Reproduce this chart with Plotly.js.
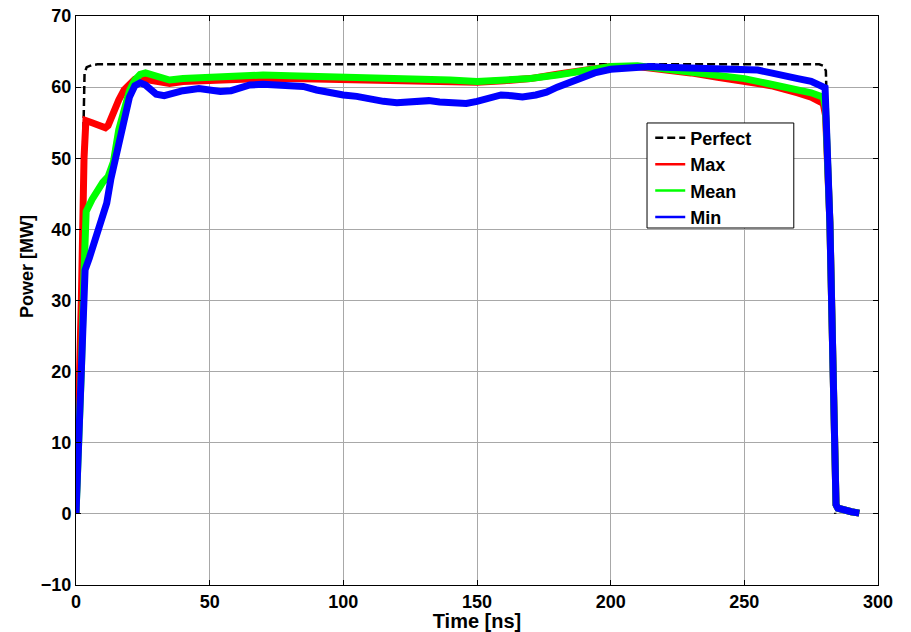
<!DOCTYPE html>
<html>
<head>
<meta charset="utf-8">
<script src="https://cdn.plot.ly/plotly-3.0.1.min.js"></script>
<style>html,body{margin:0;padding:0;background:#fff;}#chart{width:911px;height:632px;}</style>
</head>
<body>
<div id="chart"></div>
<script>
// ---- data ----
var perfectX = [0, 3.2, 4, 6, 8, 278, 279.5, 280.5, 281, 284];
var perfectY = [0, 62, 62.8, 63.1, 63.2, 63.2, 63, 62.3, 55, 0];

var maxX = [0, 1, 2, 3, 3.7, 6, 8, 10, 11, 12, 14, 16, 18, 20, 22, 24, 27, 30, 35, 40, 50, 60, 70, 80, 90, 100, 110, 120, 130, 140, 150, 160, 170, 180, 190, 200, 210, 220, 230, 240, 250, 260, 270, 275, 279.5, 280.4, 282, 284.3, 285, 287, 290, 293];
var maxY = [0, 12, 30, 50, 55.3, 55, 54.8, 54.4, 54.3, 54.6, 56.5, 58.2, 59.6, 60.5, 61.1, 61.2, 61, 60.6, 60.5, 60.8, 61, 61.2, 61.2, 61.2, 61.1, 61, 61, 60.8, 60.9, 60.8, 60.7, 60.9, 61.2, 61.8, 62.4, 62.9, 62.9, 62.5, 62, 61.4, 60.8, 60.2, 59.2, 58.6, 57.7, 56, 41, 1.3, 0.8, 0.5, 0.3, 0.1];

var meanX = [0, 1, 2, 3, 3.8, 6, 8, 10, 12, 14, 16, 18, 20, 22, 24, 26, 28, 30, 35, 40, 50, 60, 70, 80, 90, 100, 110, 120, 130, 140, 150, 160, 170, 180, 190, 200, 210, 220, 230, 240, 250, 260, 270, 275, 279.5, 280.4, 282, 284.3, 285, 287, 290, 293];
var meanY = [0, 8, 20, 34, 42.5, 44.2, 45.6, 46.6, 47.4, 49.5, 54, 57, 59.5, 61, 61.8, 62, 61.8, 61.4, 61.0, 61.2, 61.4, 61.6, 61.7, 61.6, 61.5, 61.5, 61.5, 61.4, 61.3, 61.0, 60.8, 61.0, 61.2, 61.7, 62.4, 62.9, 63.0, 62.6, 62.2, 61.7, 61.2, 60.4, 59.7, 59.2, 58.6, 57, 41, 1.3, 0.8, 0.5, 0.3, 0.1];

var minX = [0, 1, 2, 3.4, 5, 7, 9, 11.5, 13, 15, 16.5, 18, 20, 22, 24, 26, 28, 30, 33, 36, 40, 46, 50, 54, 58, 65, 70, 78, 85, 90, 95, 100, 105, 110, 115, 120, 125, 132, 136, 141, 146, 150, 155, 159, 163, 167, 172, 176, 180, 185, 190, 194, 200, 205, 210, 215, 220, 230, 240, 250, 255, 260, 265, 270, 275, 280.2, 282, 284.3, 285, 287, 290, 293];
var minY = [0, 9, 22, 34.3, 36, 38.5, 41, 43.7, 47, 50.5, 53, 55.5, 58.6, 60.2, 60.6, 60.3, 59.6, 59.0, 58.8, 59.2, 59.5, 59.8, 59.6, 59.4, 59.5, 60.3, 60.4, 60.3, 60.1, 59.6, 59.2, 58.9, 58.7, 58.3, 58.0, 57.8, 58.0, 58.1, 57.9, 57.8, 57.7, 58.0, 58.6, 58.9, 58.8, 58.6, 58.9, 59.3, 60.0, 60.8, 61.6, 62.0, 62.5, 62.7, 62.8, 62.9, 62.8, 62.7, 62.6, 62.6, 62.4, 62.0, 61.5, 61.2, 60.8, 59.9, 41, 1.3, 0.8, 0.5, 0.3, 0.1];

var seriesNames = ['Perfect', 'Max', 'Mean', 'Min'];
var xTickVals = [0, 50, 100, 150, 200, 250, 300];
var yTickVals = [-10, 0, 10, 20, 30, 40, 50, 60, 70];
var xLabel = 'Time [ns]';
var yLabel = 'Power [MW]';

// ---- styles ----
var FONT = 'Arial, "Liberation Sans", sans-serif';
var colors = ['#000000', '#ff0000', '#00ff00', '#0000ff'];
var bandWidth = 7;

var dataX = [perfectX, maxX, meanX, minX];
var dataY = [perfectY, maxY, meanY, minY];

var traces = [];
for (var i = 0; i < 4; i++) {
  traces.push({
    x: dataX[i], y: dataY[i], mode: 'lines', type: 'scatter',
    name: seriesNames[i], showlegend: false, hoverinfo: 'skip',
    line: i === 0 ? {color: colors[i], width: 2.5, dash: '8px,4px'} : {color: colors[i], width: bandWidth}
  });
}
// legend entries (thin lines as in reference)
for (var j = 0; j < 4; j++) {
  traces.push({
    x: [null], y: [null], mode: 'lines', type: 'scatter',
    name: seriesNames[j], showlegend: true,
    line: j === 0 ? {color: colors[j], width: 2.5, dash: '8px,4px'} : {color: colors[j], width: 2.5}
  });
}

var axisCommon = {
  showline: true, linecolor: '#000', linewidth: 1, mirror: 'ticks',
  ticks: 'inside', ticklen: 5, tickcolor: '#000', tickwidth: 1,
  showgrid: true, gridcolor: '#a8a8a8', gridwidth: 1, zeroline: false,
  tickfont: {family: FONT, size: 18, color: '#000', weight: 'bold'}
};

var layout = {
  width: 911, height: 632,
  margin: {l: 76, r: 33, t: 16, b: 47},
  paper_bgcolor: '#fff', plot_bgcolor: '#fff',
  showlegend: true,
  xaxis: Object.assign({}, axisCommon, {
    range: [0, 300], tickvals: xTickVals,
    title: {text: xLabel, font: {family: FONT, size: 20, color: '#000', weight: 'bold'}, standoff: 0}
  }),
  yaxis: Object.assign({}, axisCommon, {
    range: [-10, 70], tickvals: yTickVals
  }),
  annotations: [{
    text: yLabel, xref: 'paper', yref: 'paper', x: -0.061, y: 0.559,
    textangle: -90, showarrow: false, xanchor: 'center', yanchor: 'middle',
    font: {family: FONT, size: 18, color: '#000', weight: 'bold'}
  }],
  shapes: [{
    type: 'rect', xref: 'paper', yref: 'paper', layer: 'above',
    x0: 0.712, x1: 0.895, y0: 0.6274, y1: 0.812,
    line: {color: '#000', width: 1}, fillcolor: '#fff'
  }],
  legend: {
    x: 0.716, y: 0.818, xanchor: 'left', yanchor: 'top',
    bgcolor: 'rgba(0,0,0,0)', borderwidth: 0,
    font: {family: FONT, size: 18, color: '#000', weight: 'bold'},
    tracegroupgap: 0
  }
};

Plotly.newPlot('chart', traces, layout, {staticPlot: true, displayModeBar: false});
</script>
</body>
</html>
